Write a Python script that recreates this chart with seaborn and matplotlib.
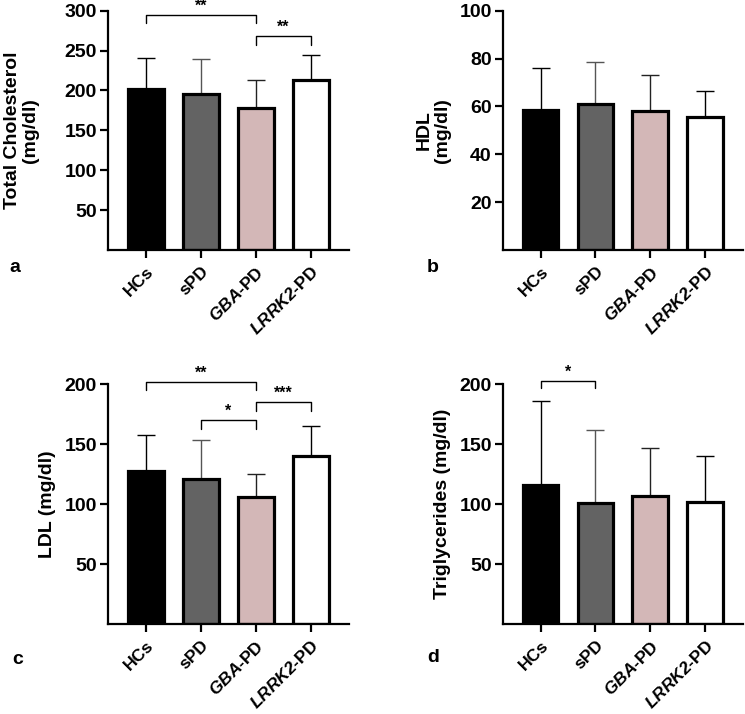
import matplotlib
matplotlib.use("Agg")
import matplotlib.pyplot as plt
import pandas as pd
import seaborn as sns

groups = ["HCs", "sPD", "GBA-PD", "LRRK2-PD"]
tick_labels = ["HCs", "sPD", r"$\mathbfit{GBA}$-PD", r"$\mathbfit{LRRK2}$-PD"]
bar_colors = ["#000000", "#636363", "#d8b2b2", "#ffffff"]
err_colors = ["#000000", "#555555", "#222222", "#000000"]

chol_mean = [202, 196, 178, 213]
chol_sd = [39, 43, 35, 31]
hdl_mean = [58.5, 61, 58, 55.5]
hdl_sd = [17.5, 17.5, 15, 11]
ldl_mean = [127.5, 121, 106, 140]
ldl_sd = [30.5, 32.5, 19, 25]
trig_mean = [115.5, 101, 107, 102]
trig_sd = [70.5, 61, 40, 38]

# brackets: (group i, group j, bracket height, drop, stars)
chol_sig = [(0, 2, 295, 11, "**"), (2, 3, 268, 11, "**")]
ldl_sig = [(0, 2, 202, 7, "**"), (1, 2, 170, 7, "*"), (2, 3, 185, 7, "***")]
trig_sig = [(0, 1, 203, 6, "*")]

sns.set_theme(style="ticks")
plt.rcParams["font.family"] = ["Liberation Sans", "DejaVu Sans"]
plt.rcParams["mathtext.fontset"] = "custom"
plt.rcParams["mathtext.bfit"] = "Liberation Sans:bold:italic"
plt.rcParams["mathtext.bf"] = "Liberation Sans:bold"
plt.rcParams["mathtext.it"] = "Liberation Sans:italic"
plt.rcParams["mathtext.rm"] = "Liberation Sans"
for k in ["text.color", "axes.labelcolor", "xtick.color", "ytick.color", "axes.edgecolor"]:
    plt.rcParams[k] = "black"

fig = plt.figure(figsize=(7.45, 7.14), dpi=100)
boxes = {
    "a": [0.145, 0.650, 0.323, 0.335],
    "b": [0.675, 0.650, 0.322, 0.335],
    "c": [0.145, 0.126, 0.323, 0.336],
    "d": [0.675, 0.126, 0.322, 0.336],
}
letter_pos = {"a": (9, 267), "b": (427, 267), "c": (12, 660), "d": (427, 658)}

panels = [
    ("a", chol_mean, chol_sd, "Total Cholesterol\n(mg/dl)", 300, [50, 100, 150, 200, 250, 300], chol_sig, 18),
    ("b", hdl_mean, hdl_sd, "HDL\n(mg/dl)", 100, [20, 40, 60, 80, 100], [], 6),
    ("c", ldl_mean, ldl_sd, "LDL (mg/dl)", 200, [50, 100, 150, 200], ldl_sig, 6),
    ("d", trig_mean, trig_sd, "Triglycerides (mg/dl)", 200, [50, 100, 150, 200], trig_sig, 6),
]

for letter, mean, sd, ylabel, ymax, yticks, sig, pad in panels:
    ax = fig.add_axes(boxes[letter])
    df = pd.DataFrame({"group": groups, "value": mean})
    sns.barplot(data=df, x="group", y="value", hue="group", palette=bar_colors,
                width=0.65, edgecolor="black", linewidth=2.3, legend=False,
                errorbar=None, ax=ax, zorder=2)
    for i in range(len(groups)):
        ax.errorbar(i, mean[i], yerr=[[0], [sd[i]]], fmt="none", ecolor=err_colors[i],
                    elinewidth=1.0, capsize=6.5, capthick=1.0, zorder=1)
    for i, j, h, drop, stars in sig:
        ax.plot([i, i, j, j], [h - drop, h, h, h - drop], color="black", lw=1.0,
                clip_on=False)
        ax.text((i + j) / 2, h + ymax * 0.005, stars, ha="center", va="bottom",
                fontsize=11.5, fontweight="bold", clip_on=False)
    ax.set_xlim(-0.69, 3.69)
    ax.set_ylim(0, ymax)
    ax.set_yticks(yticks)
    ax.set_xticks(range(len(groups)))
    ax.set_xticklabels(tick_labels, rotation=45, ha="right", rotation_mode="anchor",
                       fontsize=12.5, fontweight="bold")
    for t in ax.get_yticklabels():
        t.set_fontweight("bold")
        t.set_fontsize(14)
    ax.set_xlabel("")
    ax.set_ylabel(ylabel, fontsize=14, fontweight="bold", linespacing=1.1, labelpad=pad)
    sns.despine(ax=ax)
    for s in ["left", "bottom"]:
        ax.spines[s].set_linewidth(1.6)
    ax.tick_params(axis="both", width=1.6, length=6, pad=2)
    ax.tick_params(axis="x", pad=4)
    lx, ly = letter_pos[letter]
    fig.text(lx / 745, 1 - ly / 714, letter, fontsize=14, fontweight="bold",
             va="center", ha="left")

fig.savefig("out.png", dpi=100)
